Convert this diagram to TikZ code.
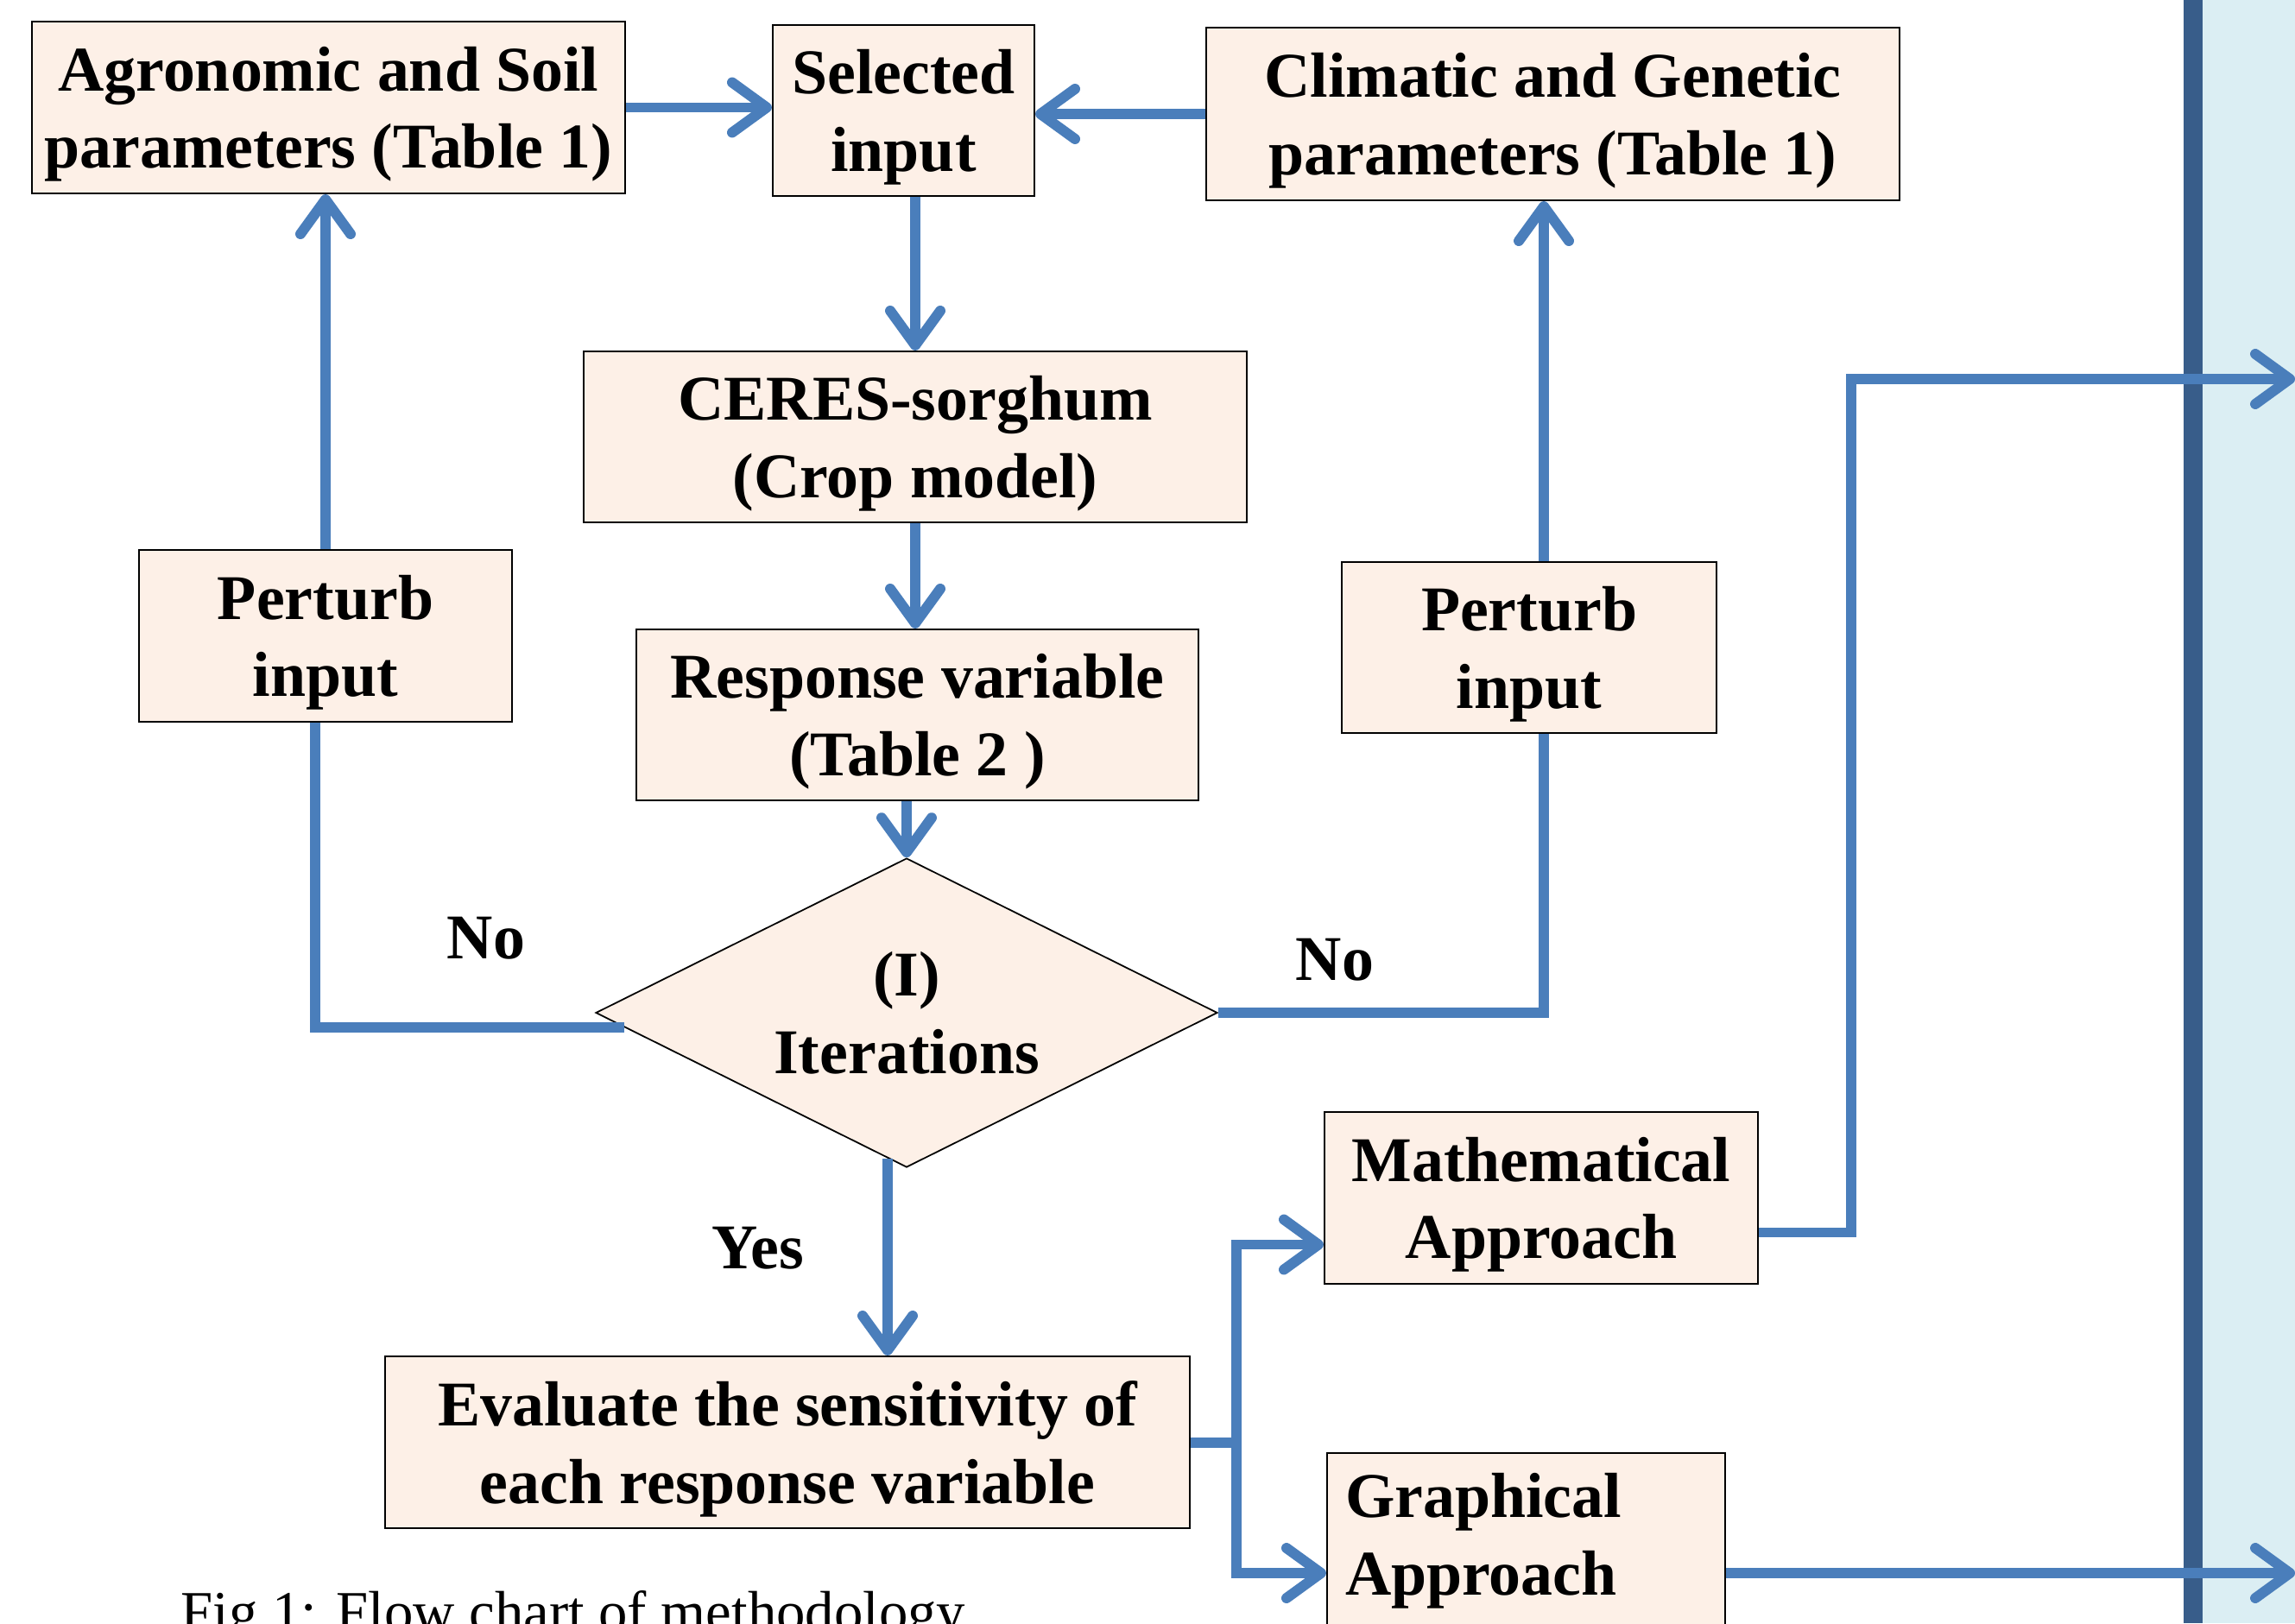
\documentclass[tikz,border=0pt]{standalone}
\usepackage{fontspec}
\setmainfont{Liberation Serif}
\usetikzlibrary{arrows.meta,shapes.geometric}
\definecolor{boxfill}{RGB}{253,240,231}
\definecolor{flowblue}{RGB}{74,126,187}
\definecolor{bardark}{RGB}{56,93,138}
\definecolor{barfill}{RGB}{219,238,243}
\begin{document}
\begin{tikzpicture}[x=1mm, y=-1mm,
  box/.style={draw, fill=boxfill, line width=0.6pt, inner sep=0pt, align=center, text depth=0pt,
    font=\fontsize{21}{25.5}\selectfont\bfseries},
  decision/.style={box, diamond, aspect=2, line width=0.5pt},
  link/.style={draw=flowblue, line width=3.4pt},
  arr/.style={link, -{Straight Barb[round, length=4mm, width=5.8mm]}},
  lbl/.style={font=\fontsize{21}{25.5}\selectfont\bfseries}]
  \path[use as bounding box, clip] (0,0) rectangle (265.8,188);
  % right panel
  \fill[barfill] (255.1,0) rectangle (265.8,188);
  \draw[bardark, line width=2.2mm] (254,0) -- (254,188);

  \node[box, minimum width=68.7mm, minimum height=19.9mm] (agro) at (38.05,12.45) {Agronomic and Soil\\parameters (Table 1)};
  \node[box, minimum width=30.3mm, minimum height=19.8mm] (sel) at (104.65,12.8) {Selected\\input};
  \node[box, minimum width=80.3mm, minimum height=20mm] (clim) at (179.85,13.2) {Climatic and Genetic\\parameters (Table 1)};
  \node[box, minimum width=76.8mm, minimum height=19.8mm] (ceres) at (106,50.6) {CERES-sorghum\\(Crop model)};
  \node[box, minimum width=65.1mm, minimum height=19.8mm] (resp) at (106.25,82.8) {Response variable\\(Table 2 )};
  \node[box, minimum width=43.2mm, minimum height=19.9mm] (perL) at (37.7,73.65) {Perturb\\input};
  \node[box, minimum width=43.4mm, minimum height=19.8mm] (perR) at (177.1,75) {Perturb\\input};
  \node[decision, minimum width=72mm, minimum height=35.8mm] (dia) at (105,117.3) {(I)\\Iterations};
  \node[box, minimum width=93.2mm, minimum height=19.9mm] (eval) at (91.2,167.05) {Evaluate the sensitivity of\\each response variable};
  \node[box, minimum width=50.2mm, minimum height=19.9mm] (math) at (178.5,138.75) {Mathematical\\Approach};
  \node[box, text depth=, align=left, inner xsep=2.1mm, text width=41.9mm, minimum height=20.4mm] (graph) at (176.75,178.5) {Graphical\\Approach};

  \node[lbl] (noL) at (56.3,108.7) {No};
  \node[lbl] (noR) at (154.6,111.2) {No};
  \node[lbl] (yes) at (87.8,144.6) {Yes};
  \node[anchor=base west, font=\fontsize{19}{22}\selectfont] (caption) at (19.7,188.9) {Fig 1: Flow chart of methodology};

  \coordinate (outA) at (265.8,43.9);
  \coordinate (outB) at (265.8,182.2);

  \draw[arr] (agro.east) -- (agro.east -| sel.west);
  \draw[arr] (clim.west) -- (clim.west -| sel.east);
  \draw[arr] (ceres.north |- sel.south) -- (ceres.north);
  \draw[arr] (ceres.south) -- (ceres.south |- resp.north);
  \draw[arr] (dia.north |- resp.south) -- (dia.north);
  \draw[link] ([shift={(3.4mm,-1.7mm)}]dia.west) -| ([xshift=-1.2mm]perL.south);
  \draw[arr] (perL.north) -- (perL.north |- agro.south);
  \draw[link] (dia.east) -| ([xshift=1.7mm]perR.south);
  \draw[arr] ([xshift=1.7mm]perR.north) -- ([xshift=1.7mm]perR.north |- clim.south);
  \draw[arr] ([shift={(-2.2mm,1.1mm)}]dia.south) -- ([xshift=-2.2mm]dia.south |- eval.north);
  \draw[link] (eval.east) -- +(5.3,0) coordinate (br);
  \draw[arr] (br) |- ([yshift=-5.4mm]math.west);
  \draw[arr] (br) |- (graph.west |- outB);
  \draw[arr] ([yshift=-4mm]math.east) -- ++(10.7,0) |- (outA);
  \draw[arr] (outB -| graph.east) -- (outB);
\end{tikzpicture}
\end{document}
